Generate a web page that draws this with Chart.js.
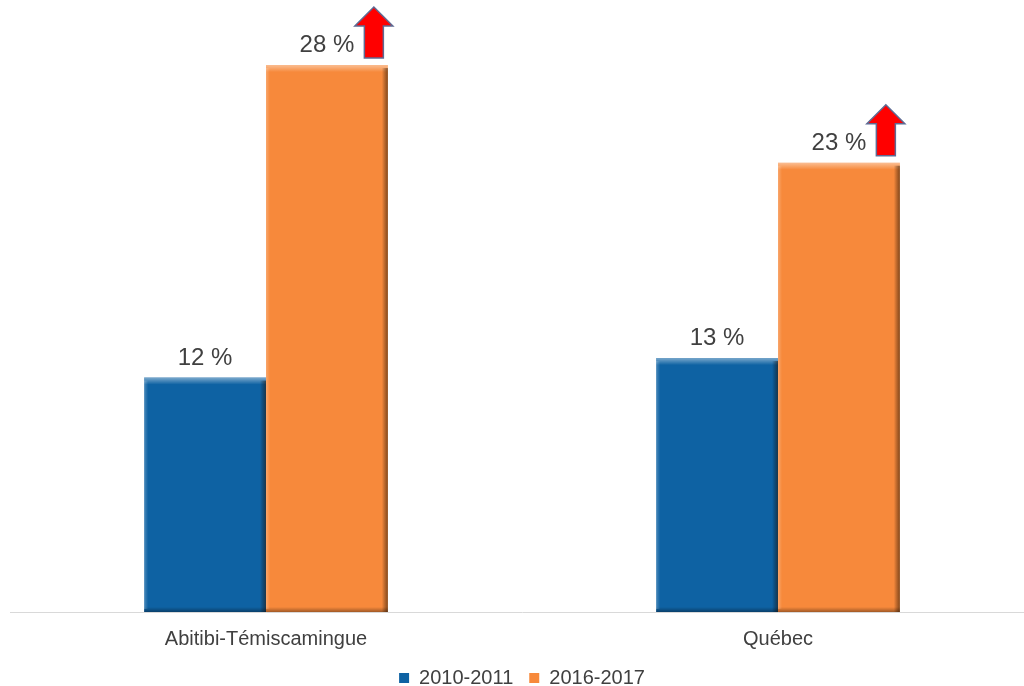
<!DOCTYPE html>
<html>
<head>
<meta charset="utf-8">
<script src="https://cdn.jsdelivr.net/npm/chart.js@4/dist/chart.umd.min.js"></script>
<style>
  html, body { margin: 0; padding: 0; background: #fff; overflow: hidden; }
  #wrap { width: 1044px; height: 686px; }
</style>
</head>
<body>
<div id="wrap"><canvas id="chart" width="1044" height="686"></canvas></div>
<script>
const regions = ['Abitibi-Témiscamingue', 'Québec'];
const period1 = [12, 13];
const period2 = [28, 23];
const seriesNames = ['2010-2011', '2016-2017'];
const seriesColors = ['#0E62A3', '#F7893B'];

// bevelled look like the office chart
const bevelPlugin = {
    id: 'bevel',
    afterDatasetsDraw(chart) {
        const ctx = chart.ctx;
        chart.data.datasets.forEach((ds, i) => {
            chart.getDatasetMeta(i).data.forEach(bar => {
                const left = bar.x - bar.width / 2;
                const right = bar.x + bar.width / 2;
                const top = bar.y;
                const bottom = bar.base;
                ctx.save();
                let g = ctx.createLinearGradient(0, top, 0, top + 7);
                g.addColorStop(0, 'rgba(255,255,255,0.45)');
                g.addColorStop(1, 'rgba(255,255,255,0)');
                ctx.fillStyle = g;
                ctx.fillRect(left, top, bar.width, 7);
                g = ctx.createLinearGradient(right - 6, 0, right, 0);
                g.addColorStop(0, 'rgba(0,0,0,0)');
                g.addColorStop(1, 'rgba(40,20,0,0.55)');
                ctx.fillStyle = g;
                ctx.fillRect(right - 6, top + 3, 6, bottom - top - 3);
                g = ctx.createLinearGradient(0, bottom - 5, 0, bottom);
                g.addColorStop(0, 'rgba(0,0,0,0)');
                g.addColorStop(1, 'rgba(0,0,0,0.35)');
                ctx.fillStyle = g;
                ctx.fillRect(left, bottom - 5, bar.width, 5);
                g = ctx.createLinearGradient(left, 0, left + 4, 0);
                g.addColorStop(0, 'rgba(255,255,255,0.25)');
                g.addColorStop(1, 'rgba(255,255,255,0)');
                ctx.fillStyle = g;
                ctx.fillRect(left, top + 3, 4, bottom - top - 6);
                ctx.restore();
            });
        });
    }
};

const valueLabels = {
    id: 'valueLabels',
    afterDatasetsDraw(chart) {
        const ctx = chart.ctx;
        ctx.save();
        ctx.font = '24px "Liberation Sans", Arial, sans-serif';
        ctx.fillStyle = '#404040';
        ctx.textAlign = 'center';
        ctx.textBaseline = 'alphabetic';
        chart.data.datasets.forEach((ds, i) => {
            chart.getDatasetMeta(i).data.forEach((bar, j) => {
                ctx.fillText(ds.data[j] + ' %', bar.x, bar.y - 13);
            });
        });
        ctx.restore();
    }
};

// red "up" arrows next to the 2016-2017 values
const arrowPlugin = {
    id: 'arrows',
    afterDatasetsDraw(chart) {
        const ctx = chart.ctx;
        chart.getDatasetMeta(1).data.forEach(bar => {
            const cx = bar.x + bar.width / 2 - 14;
            const bottom = bar.y - 7;
            const h = 51, headH = 19, headW = 38, shaftW = 19;
            ctx.save();
            ctx.beginPath();
            ctx.moveTo(cx - shaftW / 2, bottom);
            ctx.lineTo(cx - shaftW / 2, bottom - h + headH);
            ctx.lineTo(cx - headW / 2, bottom - h + headH);
            ctx.lineTo(cx, bottom - h);
            ctx.lineTo(cx + headW / 2, bottom - h + headH);
            ctx.lineTo(cx + shaftW / 2, bottom - h + headH);
            ctx.lineTo(cx + shaftW / 2, bottom);
            ctx.closePath();
            ctx.fillStyle = '#FF0000';
            ctx.fill();
            ctx.lineWidth = 1.5;
            ctx.strokeStyle = '#5E6A93';
            ctx.stroke();
            ctx.restore();
        });
    }
};

new Chart(document.getElementById('chart'), {
    type: 'bar',
    data: {
        labels: regions,
        datasets: [
            { label: seriesNames[0], data: period1, backgroundColor: seriesColors[0], borderWidth: 0 },
            { label: seriesNames[1], data: period2, backgroundColor: seriesColors[1], borderWidth: 0 }
        ]
    },
    options: {
        responsive: false,
        animation: false,
        categoryPercentage: 0.476,
        barPercentage: 1.0,
        layout: { padding: { top: 26, left: 10, right: 10, bottom: -12 } },
        scales: {
            x: {
                grid: { display: false, drawTicks: false },
                border: { display: true, color: '#d9d9d9', width: 1 },
                ticks: {
                    color: '#404040',
                    padding: 15,
                    font: { family: '"Liberation Sans", Arial, sans-serif', size: 20 }
                },
                afterFit: scale => { scale.height = 40; }
            },
            y: {
                display: false,
                min: 0,
                max: 30
            }
        },
        plugins: {
            legend: {
                position: 'bottom',
                labels: {
                    boxWidth: 10,
                    boxHeight: 10,
                    padding: 16,
                    color: '#404040',
                    font: { family: '"Liberation Sans", Arial, sans-serif', size: 20 }
                }
            },
            tooltip: { enabled: false }
        }
    },
    plugins: [bevelPlugin, valueLabels, arrowPlugin]
});
</script>
</body>
</html>
